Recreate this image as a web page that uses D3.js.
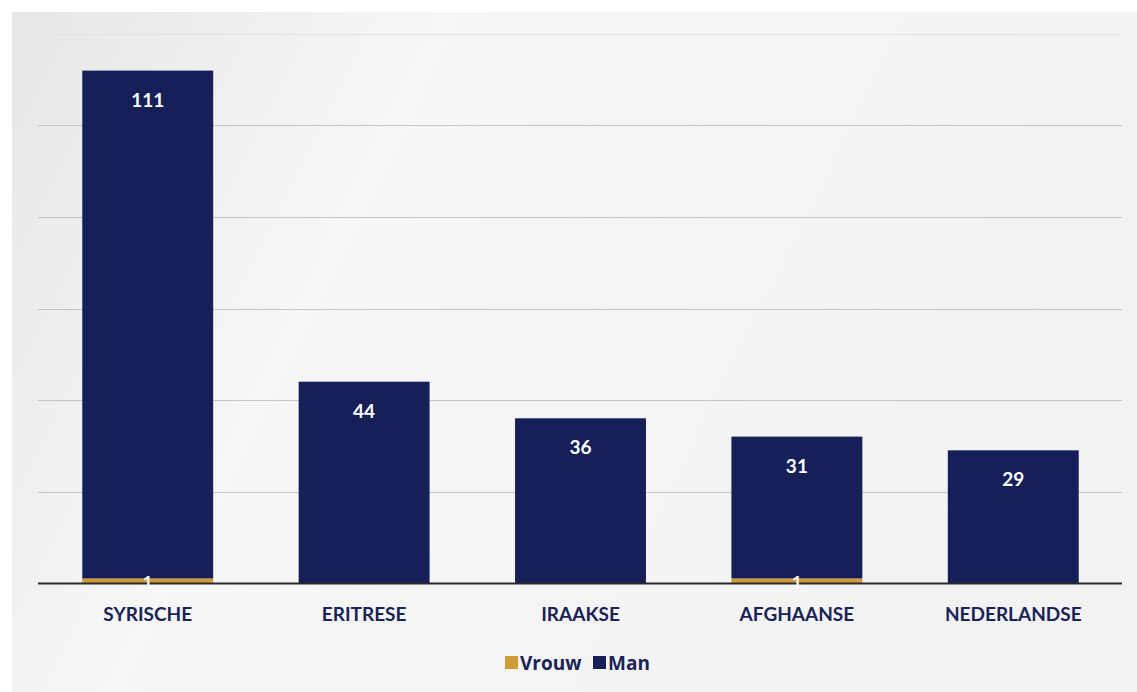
<!DOCTYPE html>
<html><head><meta charset="utf-8">
<script src="https://cdn.jsdelivr.net/npm/d3@7"></script>
<style>html,body{margin:0;padding:0;background:#fff;overflow:hidden}</style>
</head><body>
<svg id="c" width="1137" height="692"></svg>
<script>
const categories = ["SYRISCHE","ERITRESE","IRAAKSE","AFGHAANSE","NEDERLANDSE"];
const vrouwValues = [1, 0, 0, 1, 0];
const manValues = [111, 44, 36, 31, 29];
const yTicks = [0, 20, 40, 60, 80, 100, 120];
const seriesNames = ["Vrouw","Man"];

const W = 1137, H = 692;
const svg = d3.select("#c");
const defs = svg.append("defs");
const g = defs.append("linearGradient").attr("id","bg").attr("x1","0").attr("x2","1").attr("y1","0").attr("y2","0.3");
g.append("stop").attr("offset","0").attr("stop-color","#e6e6e8");
g.append("stop").attr("offset","0.35").attr("stop-color","#f6f6f7");
g.append("stop").attr("offset","1").attr("stop-color","#f2f2f3");
svg.append("rect").attr("x",12).attr("y",12).attr("width",W-12).attr("height",H-12).attr("fill","url(#bg)");

const navy = "#161f57", gold = "#d09a36";
const baseY = 583;
const font = "Lato, 'Open Sans', sans-serif";
const y = d3.scaleLinear().domain([0,120]).range([baseY, 34]);
const x = d3.scaleBand().domain(categories).range([39, 1122]).paddingInner(0.395).paddingOuter(0.2);

// gridlines
svg.append("g").selectAll("line").data(yTicks.filter(d=>d>0)).join("line")
  .attr("x1",38).attr("x2",1122)
  .attr("y1",d=>Math.round(y(d))+0.5).attr("y2",d=>Math.round(y(d))+0.5)
  .attr("stroke",d=>d===120?"#e2e2e4":"#c4c4c6").attr("stroke-width",1);

const rows = categories.map((c,i)=>({cat:c, Vrouw:vrouwValues[i], Man:manValues[i]}));
const stack = d3.stack().keys(seriesNames)(rows);
const colors = {Vrouw:gold, Man:navy};

stack.forEach(s=>{
  svg.append("g").selectAll("rect").data(s).join("rect")
    .attr("x",d=>x(d.data.cat)).attr("width",x.bandwidth())
    .attr("y",d=>y(d[1])).attr("height",d=>Math.max(0,y(d[0])-y(d[1])))
    .attr("fill",colors[s.key]);
});

// baseline
svg.append("line").attr("x1",38).attr("x2",1122).attr("y1",baseY+0.5).attr("y2",baseY+0.5)
  .attr("stroke","#2a2a2a").attr("stroke-width",2);

// Man labels
svg.append("g").selectAll("text").data(stack[1]).join("text")
  .attr("x",d=>x(d.data.cat)+x.bandwidth()/2).attr("y",d=>y(d[1])+36)
  .attr("text-anchor","middle").attr("fill","#ffffff")
  .attr("font-family",font).attr("font-weight","bold").attr("font-size","19px")
  .text(d=>d.data.Man);

// Vrouw labels
svg.append("g").selectAll("text").data(stack[0].filter(d=>d.data.Vrouw>0)).join("text")
  .attr("x",d=>x(d.data.cat)+x.bandwidth()/2).attr("y",baseY+5)
  .attr("text-anchor","middle").attr("fill","#ffffff")
  .attr("font-family",font).attr("font-weight","bold").attr("font-size","17px")
  .text(d=>d.data.Vrouw);

// x axis labels
const xAxis = d3.axisBottom(x).tickSize(0).tickPadding(0);
const ax = svg.append("g").attr("transform",`translate(0,${baseY})`).call(xAxis);
ax.select(".domain").remove();
ax.selectAll("text").attr("dy",null).attr("y",38)
  .attr("fill","#1a2356").attr("font-family",font)
  .attr("font-weight","bold").attr("font-size","19px");

// legend
const leg = svg.append("g").attr("font-family","'Open Sans', Lato, sans-serif").attr("font-weight","bold").attr("font-size","19px");
const items = [{k:"Vrouw",x:505},{k:"Man",x:593}];
items.forEach(it=>{
  leg.append("rect").attr("x",it.x).attr("y",656).attr("width",13).attr("height",13).attr("fill",colors[it.k]);
  leg.append("text").attr("x",it.x+15).attr("y",670).attr("fill","#1a2356").text(it.k);
});
</script>
</body></html>
